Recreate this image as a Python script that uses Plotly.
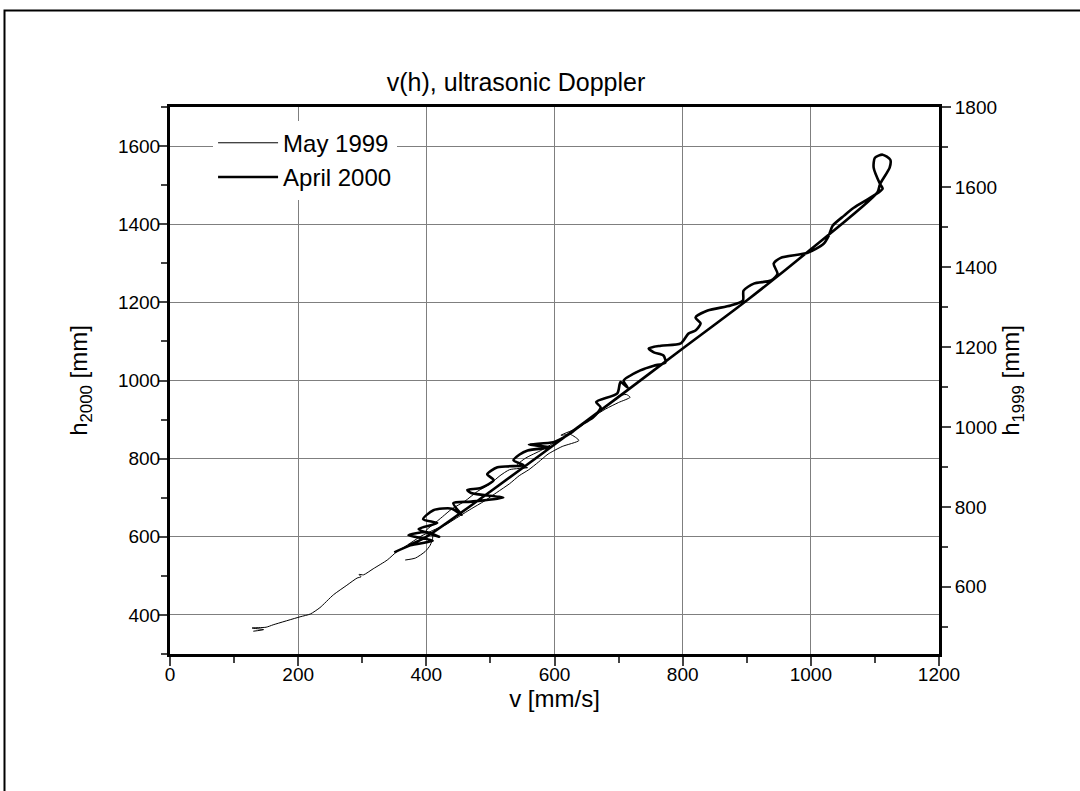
import plotly.graph_objects as go

# April 2000 (left axis, h2000) - velocity [mm/s] and height [mm]
v_2000 = [350, 375, 410, 372, 400, 420, 388, 417, 395, 411, 440, 455, 442, 470, 520, 470, 464, 485,
          505, 495, 511, 552, 536, 545, 558, 594, 560, 598, 614, 625, 645, 660, 672, 665, 698, 703,
          714, 708, 734, 742, 755, 773, 770, 755, 747, 766, 797, 809, 820, 828, 820, 839, 875, 894,
          895, 911, 938, 948, 942, 953, 995, 1020, 1028, 1034, 1052, 1067, 1098, 1112, 1108, 1098,
          1100, 1112, 1124, 1123, 1108, 1104, 1000, 901, 797, 700, 600, 500, 400, 372]
h_2000 = [560, 578, 590, 604, 612, 600, 620, 635, 645, 668, 672, 656, 686, 690, 700, 712, 720, 725,
          745, 760, 778, 783, 796, 810, 821, 829, 836, 842, 854, 865, 890, 905, 931, 945, 967, 996,
          982, 1000, 1026, 1031, 1038, 1046, 1064, 1072, 1082, 1089, 1095, 1120, 1128, 1146, 1161,
          1179, 1192, 1205, 1230, 1248, 1256, 1273, 1299, 1314, 1327, 1350, 1371, 1396, 1422, 1442,
          1473, 1491, 1503, 1545, 1570, 1578, 1565, 1545, 1503, 1482, 1336, 1206, 1078, 958, 836,
          716, 600, 578]

# May 1999 (right axis, h1999)
v_1999 = [130, 146, 128, 150, 161, 203, 219, 234, 255, 276, 292, 298, 295, 302, 317, 339, 354, 370,
          391, 410, 430, 445, 470, 490, 510, 530, 545, 560, 575, 590, 612, 638, 625, 610, 640, 660,
          680, 700, 718, 712, 700, 690, 670, 650, 630, 600, 580, 555, 540, 558, 530, 515, 500, 480,
          460, 440, 425, 410, 400, 410, 406, 398, 383, 367]
h_1999 = [489, 493, 497, 499, 505, 525, 532, 548, 580, 604, 622, 625, 631, 630, 645, 667, 688, 704,
          726, 741, 755, 770, 795, 814, 836, 858, 878, 893, 912, 932, 951, 966, 981, 979, 1000, 1025,
          1045, 1061, 1074, 1081, 1077, 1064, 1040, 1015, 991, 961, 942, 922, 902, 898, 893, 878,
          858, 839, 814, 795, 775, 755, 741, 726, 704, 688, 672, 667]

x_ticks = [0, 200, 400, 600, 800, 1000, 1200]

FONT = "Arial, Liberation Sans, Helvetica, sans-serif"

fig = go.Figure()
fig.add_trace(go.Scatter(x=v_1999, y=h_1999, mode="lines", name="May 1999",
                         line=dict(color="black", width=1, shape="spline", smoothing=0.6),
                         yaxis="y2"))
fig.add_trace(go.Scatter(x=v_2000, y=h_2000, mode="lines", name="April 2000",
                         line=dict(color="black", width=2.6, shape="spline", smoothing=0.7),
                         yaxis="y"))

fig.update_layout(
    width=1080, height=791,
    margin=dict(l=170, r=141, t=107, b=137),
    paper_bgcolor="white", plot_bgcolor="white",
    font=dict(family=FONT, color="black", size=19),
    showlegend=True,
    legend=dict(x=0.056, y=0.975, xanchor="left", yanchor="top", bgcolor="white",
                borderwidth=0, font=dict(size=24), tracegroupgap=0, itemwidth=60),
    title=dict(text="v(h), ultrasonic Doppler", x=(516 - 170) / 769, xref="paper",
               xanchor="center", y=1 - 82 / 791, yref="container", yanchor="middle",
               font=dict(size=25)),
    xaxis=dict(range=[0, 1200], tickvals=x_ticks, ticks="outside", ticklen=9, tickwidth=2,
               ticklabelstandoff=-8,
               linecolor="black", linewidth=3, mirror=True, showgrid=True,
               gridcolor="#7f7f7f", gridwidth=1, zeroline=False,
               minor=dict(dtick=100, ticks="outside", ticklen=6, tickwidth=2, showgrid=False),
               title=dict(text="v [mm/s]", font=dict(size=24), standoff=2)),
    xaxis2=dict(range=[0, 1200], overlaying="x", side="top", dtick=100, ticks="inside",
                ticklen=4, tickwidth=1, showticklabels=False, showgrid=False, zeroline=False,
                showline=False),
    yaxis=dict(range=[300, 1700], dtick=200, ticks="outside", ticklen=9, tickwidth=2,
               ticklabelstandoff=-6,
               linecolor="black", linewidth=3, mirror=True, showgrid=True,
               gridcolor="#7f7f7f", gridwidth=1, zeroline=False,
               minor=dict(dtick=100, ticks="outside", ticklen=6, tickwidth=2, showgrid=False),
               title=dict(text="h<sub>2000</sub> [mm]", font=dict(size=24), standoff=24)),
    yaxis2=dict(range=[432, 1800], dtick=200, overlaying="y", side="right", ticks="outside",
                ticklen=9, tickwidth=2, linecolor="black", linewidth=3, showline=True,
                showgrid=False, zeroline=False,
                minor=dict(dtick=100, ticks="outside", ticklen=6, tickwidth=2, showgrid=False),
                title=dict(text="h<sub>1999</sub> [mm]", font=dict(size=24), standoff=4)),
    shapes=[dict(type="rect", xref="paper", yref="paper",
                 x0=(4.5 - 170) / 769, x1=(1090 - 170) / 769,
                 y0=(654 - 800) / 547, y1=(654 - 10.5) / 547,
                 line=dict(color="black", width=2), fillcolor="rgba(0,0,0,0)", layer="below")],
)

fig.write_html("out.html", config={"displayModeBar": False},
               post_script="document.body.style.margin='0px';document.body.style.overflow='hidden';")
